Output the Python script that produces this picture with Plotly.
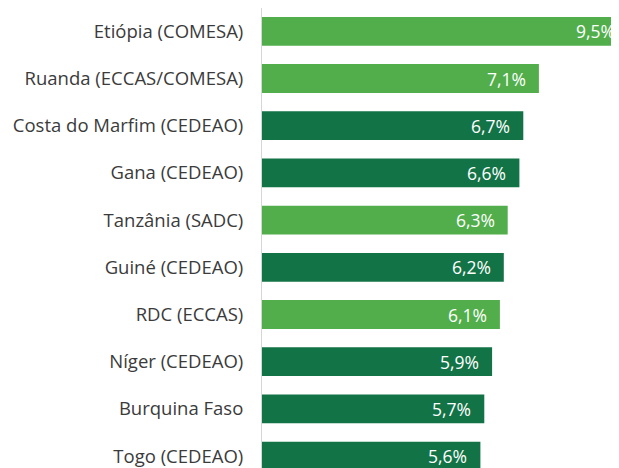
import plotly.graph_objects as go

categories = ["Etiópia (COMESA)", "Ruanda (ECCAS/COMESA)", "Costa do Marfim (CEDEAO)",
              "Gana (CEDEAO)", "Tanzânia (SADC)", "Guiné (CEDEAO)", "RDC (ECCAS)",
              "Níger (CEDEAO)", "Burquina Faso", "Togo (CEDEAO)"]
values = [9.5, 7.1, 6.7, 6.6, 6.3, 6.2, 6.1, 5.9, 5.7, 5.6]
groups = ["light", "light", "dark", "dark", "light", "dark", "light", "dark", "dark", "dark"]
value_labels = ["9,5%", "7,1%", "6,7%", "6,6%", "6,3%", "6,2%", "6,1%", "5,9%", "5,7%", "5,6%"]

palette = {"light": "#51AE4B", "dark": "#127346"}
colors = [palette[g] for g in groups]

X_MAX = 9.154

fig = go.Figure(go.Bar(
    x=values, y=categories, orientation="h",
    marker=dict(color=colors, line=dict(width=0)),
    width=0.61,
    hoverinfo="skip",
))

for cat, v, lab in zip(categories, values, value_labels):
    clipped = v > X_MAX
    fig.add_annotation(
        x=min(v, X_MAX), y=cat, xref="x", yref="y",
        text=lab, showarrow=False, xanchor="right", yanchor="middle",
        xshift=-2 if clipped else -11, yshift=0,
        font=dict(family="Open Sans", size=17.5, color="white"),
    )

fig.update_layout(
    width=611, height=460,
    margin=dict(l=254, r=0, t=0, b=0),
    paper_bgcolor="white", plot_bgcolor="white",
    showlegend=False,
    font=dict(family="Open Sans", size=18.5, color="#3b3b3b"),
    xaxis=dict(range=[0, X_MAX], visible=False, showgrid=False, zeroline=False),
    yaxis=dict(range=[9.252, -0.494], showgrid=False, zeroline=False,
               showline=True, linecolor="#d6d6d6", linewidth=1,
               ticks="", ticklabelstandoff=14, automargin=False,
               tickfont=dict(family="Open Sans", size=18.5, color="#3b3b3b")),
)

fig.write_html("out.html")
